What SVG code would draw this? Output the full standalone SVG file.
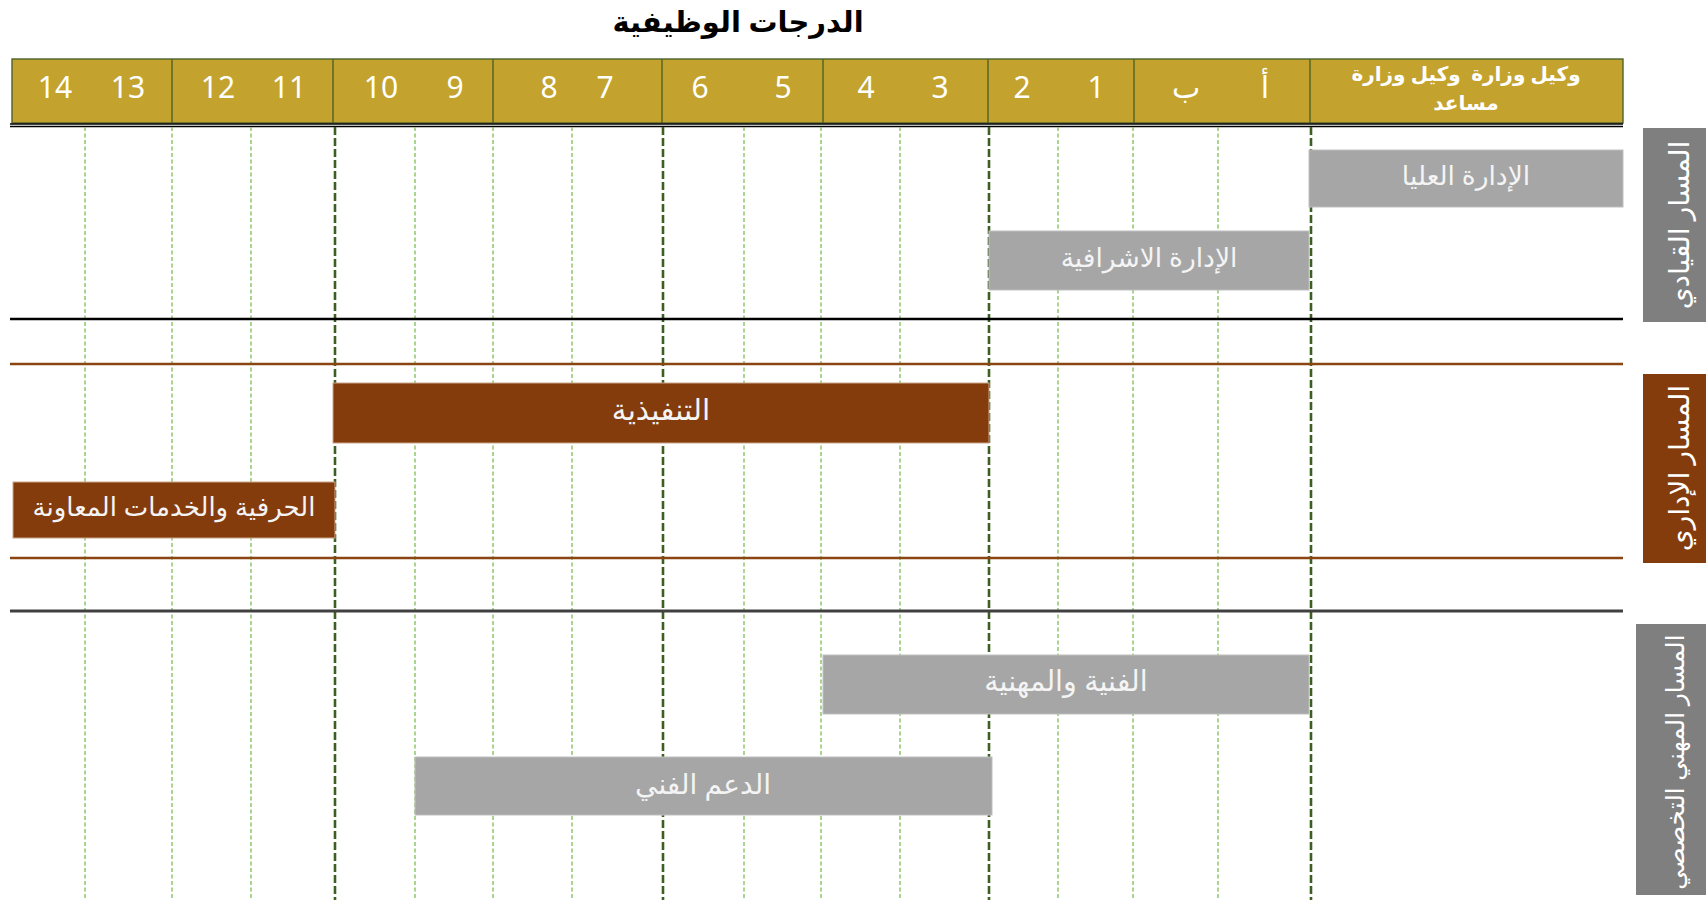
<svg xmlns="http://www.w3.org/2000/svg" width="1706" height="900" viewBox="0 0 1706 900">
<style>
.ar{font-family:"Noto Sans","DejaVu Sans",sans-serif;}
.num{font-family:"Noto Sans","DejaVu Sans",sans-serif;font-size:30px;fill:#ffffff;text-anchor:middle;}
.lt{stroke:#7cbf55;stroke-width:1.3;stroke-dasharray:4 2.5;fill:none;}
.dk{stroke:#3d5f22;stroke-width:2.6;stroke-dasharray:8 3;fill:none;}
.hdiv{stroke:#4f6228;stroke-width:1.4;}
.barg{fill:#a6a6a6;stroke:#bfbfbf;stroke-width:1;}
.barb{fill:#843c0c;stroke:#c9a58a;stroke-width:1;}
.bt{font-family:"Noto Sans","DejaVu Sans",sans-serif;fill:#f4f4f4;text-anchor:middle;dominant-baseline:central;}
.st{font-family:"Noto Sans","DejaVu Sans",sans-serif;fill:#ffffff;text-anchor:middle;dominant-baseline:central;}
</style>
<rect width="1706" height="900" fill="#ffffff"/>

<g id="title">
<text x="738" y="32" class="ar" font-size="29" font-weight="bold" fill="#000000" text-anchor="middle" direction="rtl">الدرجات الوظيفية</text>
</g>

<g id="header">
<rect x="12" y="59" width="1611" height="64" fill="#c3a32d" stroke="#4f6228" stroke-width="1.4"/>
<line class="hdiv" x1="172" y1="59" x2="172" y2="123"/>
<line class="hdiv" x1="333" y1="59" x2="333" y2="123"/>
<line class="hdiv" x1="493" y1="59" x2="493" y2="123"/>
<line class="hdiv" x1="662" y1="59" x2="662" y2="123"/>
<line class="hdiv" x1="823" y1="59" x2="823" y2="123"/>
<line class="hdiv" x1="988" y1="59" x2="988" y2="123"/>
<line class="hdiv" x1="1134" y1="59" x2="1134" y2="123"/>
<line class="hdiv" x1="1310" y1="59" x2="1310" y2="123"/>
<line x1="10" y1="124" x2="1623" y2="124" stroke="#000" stroke-width="1.6"/>
<line x1="10" y1="126.5" x2="1623" y2="126.5" stroke="#000" stroke-width="1.6"/>
<text class="num" x="55" y="98">14</text>
<text class="num" x="128" y="98">13</text>
<text class="num" x="218" y="98">12</text>
<text class="num" x="289" y="98">11</text>
<text class="num" x="381" y="98">10</text>
<text class="num" x="455" y="98">9</text>
<text class="num" x="549" y="98">8</text>
<text class="num" x="605" y="98">7</text>
<text class="num" x="700" y="98">6</text>
<text class="num" x="783" y="98">5</text>
<text class="num" x="866" y="98">4</text>
<text class="num" x="940" y="98">3</text>
<text class="num" x="1022" y="98">2</text>
<text class="num" x="1096" y="98">1</text>
<text class="num" x="1186" y="98">ب</text>
<text class="num" x="1265" y="98">أ</text>
<text class="ar" x="1466" y="81" font-size="20" font-weight="bold" fill="#ffffff" text-anchor="middle" direction="rtl" style="white-space:pre">وكيل وزارة  وكيل وزارة</text>
<text class="ar" x="1466" y="110" font-size="20" font-weight="bold" fill="#ffffff" text-anchor="middle" direction="rtl">مساعد</text>
</g>

<g id="connectors">
<line class="lt" x1="85" y1="127" x2="85" y2="900"/>
<line class="lt" x1="172" y1="127" x2="172" y2="900"/>
<line class="lt" x1="251" y1="127" x2="251" y2="900"/>
<line class="lt" x1="415" y1="127" x2="415" y2="900"/>
<line class="lt" x1="493" y1="127" x2="493" y2="900"/>
<line class="lt" x1="572" y1="127" x2="572" y2="900"/>
<line class="lt" x1="744" y1="127" x2="744" y2="900"/>
<line class="lt" x1="821" y1="127" x2="821" y2="900"/>
<line class="lt" x1="900" y1="127" x2="900" y2="900"/>
<line class="lt" x1="1058" y1="127" x2="1058" y2="900"/>
<line class="lt" x1="1133" y1="127" x2="1133" y2="900"/>
<line class="lt" x1="1218" y1="127" x2="1218" y2="900"/>
<line class="dk" x1="335" y1="127" x2="335" y2="900"/>
<line class="dk" x1="663" y1="127" x2="663" y2="900"/>
<line class="dk" x1="989" y1="127" x2="989" y2="900"/>
<line class="dk" x1="1311" y1="127" x2="1311" y2="900"/>
<line x1="10" y1="319" x2="1623" y2="319" stroke="#000000" stroke-width="2.6"/>
<line x1="10" y1="364" x2="1623" y2="364" stroke="#8b4513" stroke-width="2.4"/>
<line x1="10" y1="558" x2="1623" y2="558" stroke="#8b4513" stroke-width="2.4"/>
<line x1="10" y1="611" x2="1623" y2="611" stroke="#404040" stroke-width="2.8"/>
</g>

<g id="bar-ulya">
<rect class="barg" x="1309" y="150" width="314" height="57"/>
<text class="bt" x="1466" y="175" direction="rtl" style="font-size:26.5px">الإدارة العليا</text>
</g>
<g id="bar-ishrafiya">
<rect class="barg" x="989" y="231" width="320" height="59"/>
<text class="bt" x="1149" y="257" direction="rtl" style="font-size:26.5px">الإدارة الاشرافية</text>
</g>
<g id="bar-tanfidhiya">
<rect class="barb" x="333" y="383" width="656" height="60"/>
<text class="bt" x="661" y="408" direction="rtl" style="font-size:29.5px">التنفيذية</text>
</g>
<g id="bar-hirafiya">
<rect class="barb" x="13" y="482" width="322" height="56"/>
<text class="bt" x="174" y="506" direction="rtl" style="font-size:26px">الحرفية والخدمات المعاونة</text>
</g>
<g id="bar-fanniya">
<rect class="barg" x="823" y="655" width="486" height="59"/>
<text class="bt" x="1066" y="680" direction="rtl" style="font-size:28.5px">الفنية والمهنية</text>
</g>
<g id="bar-daam">
<rect class="barg" x="415" y="757" width="577" height="58"/>
<text class="bt" x="703" y="783" direction="rtl" style="font-size:28px">الدعم الفني</text>
</g>

<g id="side-qiyadi">
<rect x="1643" y="128" width="63" height="194" fill="#7f7f7f"/>
<text class="st" transform="translate(1678 225) rotate(-90)" direction="rtl" style="font-size:28px">المسار القيادي</text>
</g>
<g id="side-idari">
<rect x="1643" y="374" width="63" height="189" fill="#843c0c"/>
<text class="st" transform="translate(1678 468) rotate(-90)" direction="rtl" style="font-size:28px">المسار الإداري</text>
</g>
<g id="side-mihani">
<rect x="1636" y="624" width="70" height="271" fill="#7f7f7f"/>
<text class="st" transform="translate(1674 762) rotate(-90)" direction="rtl" style="font-size:25px">المسار المهني التخصصي</text>
</g>
</svg>
